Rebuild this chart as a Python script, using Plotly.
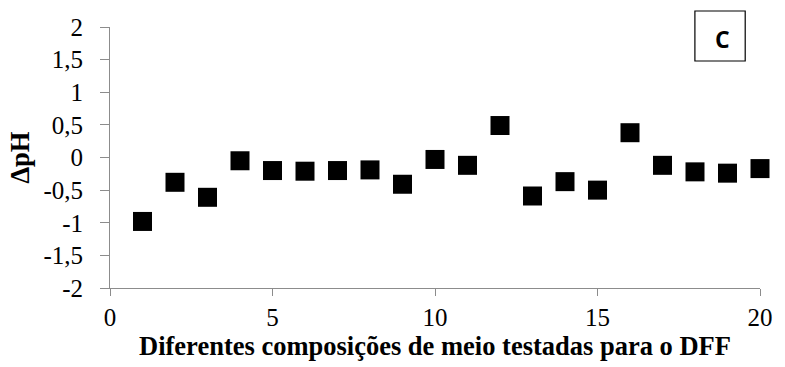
import plotly.graph_objects as go

# Medium compositions tested and the pH change measured for each
composicoes = list(range(1, 21))
delta_ph = [-0.98, -0.38, -0.61, -0.05, -0.20, -0.21, -0.20, -0.19, -0.41, -0.03,
            -0.12, 0.49, -0.59, -0.37, -0.50, 0.38, -0.12, -0.22, -0.24, -0.17]

x_ticks = [0, 5, 10, 15, 20]
y_ticks = [2, 1.5, 1, 0.5, 0, -0.5, -1, -1.5, -2]
y_tick_text = ["2", "1,5", "1", "0,5", "0", "-0,5", "-1", "-1,5", "-2"]

serif = "Liberation Serif, Times New Roman, serif"
axis_grey = "#8c8c8c"
tick_font = dict(family=serif, size=25, color="black")
title_font = dict(family=serif, size=26.5, color="black")

fig = go.Figure()
fig.add_trace(go.Scatter(
    x=composicoes, y=delta_ph, mode="markers", cliponaxis=False,
    marker=dict(symbol="square", size=19, color="black", line=dict(width=0)),
    showlegend=False, hoverinfo="x+y",
))

fig.update_layout(
    width=785, height=367,
    margin=dict(l=110, r=16, t=27, b=79),
    paper_bgcolor="white", plot_bgcolor="white",
    font=dict(family=serif, size=25, color="black"),
    xaxis=dict(
        range=[0, 20], tickvals=x_ticks, ticks="outside", ticklen=7,
        tickcolor=axis_grey, showline=True, linecolor=axis_grey, linewidth=1,
        showgrid=False, zeroline=False, tickfont=tick_font,
        title=dict(text="<b>Diferentes composições de meio testadas para o DFF</b>",
                   font=title_font, standoff=2),
    ),
    yaxis=dict(
        range=[-2, 2], tickvals=y_ticks, ticktext=y_tick_text, ticks="outside",
        ticklen=9, tickcolor=axis_grey, showline=True, linecolor=axis_grey,
        linewidth=1, showgrid=False, zeroline=False, tickfont=tick_font,
        ticklabelstandoff=12,
        title=dict(text="<b>ΔpH</b>", font=title_font, standoff=6),
    ),
    shapes=[dict(type="rect", xref="paper", yref="paper",
                 x0=(703 - 110) / 659, x1=(754 - 110) / 659,
                 y0=(288 - 61) / 261, y1=(288 - 11) / 261,
                 line=dict(color="black", width=1.2), fillcolor="white")],
    annotations=[dict(text="<b>C</b>", xref="paper", yref="paper",
                      x=(731 - 110) / 659, y=(288 - 39) / 261,
                      xanchor="center", yanchor="middle", showarrow=False,
                      font=dict(family="Open Sans, sans-serif", size=23, color="black"))],
)

fig.write_html("out.html")
